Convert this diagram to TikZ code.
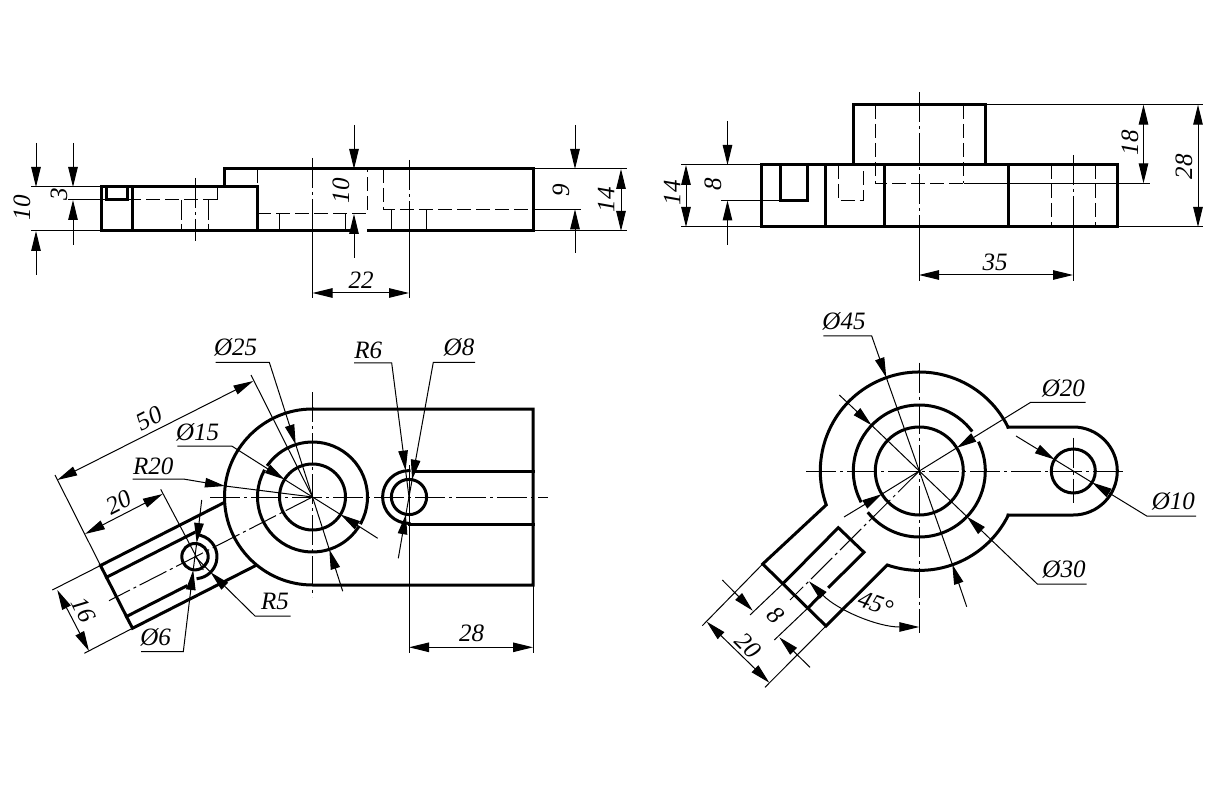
\documentclass[tikz,border=0pt]{standalone}
\usepackage{fontspec}
\setmainfont{Liberation Serif}
\usetikzlibrary{arrows.meta}
\tikzset{%
	main/.style={
		line width=3pt,
		line cap=rect
	},
	thinline/.style={
		line width=1pt
	},
	hid/.style={
		line width=1pt,
		dash pattern=on 14pt off 5pt
	},
	axis/.style={
		line width=1pt,
		dash pattern=on 30pt off 4pt on 3pt off 4pt
	},
	dimline/.style={
		line width=1pt,
		>={Triangle[length=20pt,width=9.5pt]}
	},
	lbl/.style={
		inner sep=0pt,
		font=\fontsize{25}{25}\selectfont\itshape
	},
}

\begin{document}
\begin{tikzpicture}[x=1pt,y=-1pt]
	\useasboundingbox (0,0) rectangle (1224,786);
	\coordinate (C1) at (312.5,497);
	\coordinate (H1) at (195,556.7);
	\coordinate (H2) at (409,497);
	\coordinate (C2) at (919.3,471);
	\coordinate (H3) at (1073.3,471);

	% Top left view
	\draw[main] (349,231) -- (101,231) -- (101,187) -- (257,187) -- (257,231);
	\draw[main] (224,187) -- (224,169) -- (533,169) -- (533,231) -- (368,231);
	\draw[main] (132.5,187) -- (132.5,231);
	\draw[main] (106,187) -- (106,200) -- (127,200) -- (127,187);
	\draw[hid] (127,200) -- (217,200);
	\draw[thinline] (217,200) -- (217,187);
	\draw[hid] (257,169) -- (257,187);
	\draw[hid] (257,213.3) -- (367.5,213.3) -- (367.5,169);
	\draw[hid] (383.5,169) -- (383.5,209.3) -- (533,209.3);
	\foreach \xa/\ya in {181.5/200,208.5/200,279.5/213.3,345/213.3,391.5/209.3,426/209.3}
		\draw[thinline,dash pattern=on 20pt off 4pt] (\xa,\ya) -- (\xa,231);
	\draw[axis] (195.5,178) -- (195.5,241.5);
	\draw[axis] (312.5,158) -- (312.5,231);
	\draw[axis] (409,160) -- (409,231);
	\draw[thinline] (312.5,231) -- (312.5,298);
	\draw[thinline] (409,231) -- (409,298);
	\draw[thinline] (31,187) -- (101,187);
	\draw[thinline] (31,231) -- (101,231);
	\draw[thinline] (68,200) -- (106,200);
	\draw[thinline] (533,169) -- (627,169);
	\draw[thinline] (533,231) -- (627,231);
	\draw[thinline] (533,209.3) -- (581,209.3);
	\foreach \xa/\ya/\yb/\yc/\yd in {36/143/187/275/231,73/143/187/245/200,354/125/169/258/214,575/125/169/253/209.3}{
		\draw[dimline,->] (\xa,\ya) -- (\xa,\yb);
		\draw[dimline,->] (\xa,\yc) -- (\xa,\yd);
	}
	\draw[dimline,<->] (621,169) -- (621,231);
	\draw[dimline,<->] (312.5,293) -- (409,293);
	\node[lbl,rotate=90] (ta) at (22,208) {10};
	\node[lbl,rotate=90] (tb) at (59,194) {3};
	\node[lbl,rotate=90] (tc) at (341,191) {10};
	\node[lbl,rotate=90] (td) at (561,190) {9};
	\node[lbl,rotate=90] (te) at (606,200) {14};
	\node[lbl] (tf) at (361,280) {22};

	% Top right view
	\draw[main] (761,165) rectangle (1117,227);
	\draw[main] (853,165) -- (853,104.7) -- (985,104.7) -- (985,165);
	\foreach \xa in {825,884,1008}
		\draw[main] (\xa,165) -- (\xa,227);
	\draw[main] (780.5,165) -- (780.5,200.5) -- (807.5,200.5) -- (807.5,165);
	\draw[hid] (838,165) -- (838,200.5) -- (863,200.5) -- (863,165);
	\draw[hid] (875.5,105) -- (875.5,183.3) -- (963,183.3);
	\draw[hid] (963.5,105) -- (963.5,183.3);
	\draw[thinline] (963.5,183.3) -- (1150,183.3);
	\draw[hid] (1051.7,165) -- (1051.7,227);
	\draw[hid] (1095.7,165) -- (1095.7,227);
	\draw[axis] (919,92) -- (919,227);
	\draw[axis] (1073,155) -- (1073,227);
	\draw[thinline] (919,227) -- (919,281);
	\draw[thinline] (1073,227) -- (1073,281);
	\draw[thinline] (681,165) -- (761,165);
	\draw[thinline] (681,227) -- (761,227);
	\draw[thinline] (721,200.5) -- (780.5,200.5);
	\draw[thinline] (985,104.7) -- (1203,104.7);
	\draw[thinline] (1117,227) -- (1203,227);
	\draw[dimline,<->] (686,165) -- (686,227);
	\draw[dimline,->] (727.5,121) -- (727.5,165);
	\draw[dimline,->] (727.5,245) -- (727.5,200.5);
	\draw[dimline,<->] (1143.5,104.7) -- (1143.5,183.3);
	\draw[dimline,<->] (1198,104.7) -- (1198,227);
	\draw[dimline,<->] (919,275) -- (1073,275);
	\node[lbl,rotate=90] (ra) at (672,193) {14};
	\node[lbl,rotate=90] (rb) at (713,184) {8};
	\node[lbl,rotate=90] (rc) at (1130,143) {18};
	\node[lbl,rotate=90] (rd) at (1184,167) {28};
	\node[lbl] (re) at (995,262) {35};

	% Bottom left view
	\draw[main] (533,471) -- (414,471);
	\draw[main] (533,524) -- (409,524);
	\draw[main] (312.5,409) -- (533,409) -- (533,585) -- (312.5,585) arc[start angle=270,end angle=90,radius=88pt];
	\draw[main] ([shift={(C1)}]-28:55pt) arc[start angle=-28,end angle=144,radius=55pt];
	\draw[main] ([shift={(C1)}]152:55pt) arc[start angle=152,end angle=326,radius=55pt];
	\draw[main] (C1) circle[radius=33pt];
	\draw[main] (H2) circle[radius=17.6pt];
	\draw[main] ([shift={(H2)}]90:26.4pt) arc[start angle=90,end angle=270,radius=26.4pt];
	\draw[main] (223.3,503) -- (100.5,565.5) -- (132.5,628.3) -- (256,565.4);
	\draw[main] (106.5,577.3) -- (194,532.7);
	\draw[main] (126.5,616.5) -- (186,586.2);
	\draw[main] (H1) circle[radius=13.2pt];
	\draw[main] ([shift={(H1)}]75:22pt) arc[start angle=75,end angle=-82,radius=22pt];
	\draw[axis] (210,497) -- (548,497);
	\draw[axis] (312.5,392) -- (312.5,597);
	\draw[axis] (C1) -- (109,600.7);
	\draw[thinline] (55,475) -- (100.5,565.5);
	\draw[thinline] (251,375) -- (C1);
	\draw[thinline] (160.7,489.3) -- (203.3,570);
	\draw[thinline] (100.5,565.5) -- (52.3,590);
	\draw[thinline] (132.5,628.3) -- (84.3,653.3);
	\draw[thinline] (409,465) -- (409,653);
	\draw[thinline] (533,585) -- (533,653);
	\draw[dimline,<->] (57.3,480) -- (253.3,381);
	\draw[dimline,<->] (85,534) -- (162.7,494);
	\draw[dimline,<->] (57.3,590) -- (89,651);
	\draw[dimline,<->] (409,647.3) -- (533,647.3);
	% leaders
	\draw[dimline,->] (215.7,362.3) -- (269.3,362.3) -- (295.7,444.6);
	\draw[thinline] (295.7,444.6) -- (329.3,549.4);
	\draw[dimline,->] (342.7,591.2) -- (329.3,549.4);
	\draw[dimline,->] (177.3,446) -- (231.7,446) -- (284.5,479.5);
	\draw[thinline] (284.5,479.5) -- (340.5,514.5);
	\draw[dimline,->] (377.7,538.3) -- (340.5,514.5);
	\draw[dimline,->] (132.7,479) -- (183.3,479) -- (225,486);
	\draw[thinline] (225,486) -- (C1);
	\draw[dimline,->] (354,363) -- (391.7,363) -- (405.6,470.6);
	\draw[thinline] (405.6,470.6) -- (H2);
	\draw[dimline,->] (475,362.3) -- (433.3,362.3) -- (412.1,479.7);
	\draw[thinline] (412.1,479.7) -- (405.9,514.3);
	\draw[dimline,->] (398.3,558.3) -- (405.9,514.3);
	\draw[dimline,->] (201.7,500) -- (196.7,543);
	\draw[thinline] (196.7,543) -- (193.2,570);
	\draw[dimline,->] (141,651.7) -- (183.3,651.7) -- (193.2,570);
	\draw[dimline,->] (290.7,616) -- (255,616) -- (210.5,572.2);
	\draw[thinline] (210.5,572.2) -- (H1);
	\node[lbl] (la) at (235.7,347.3) {Ø25};
	\node[lbl] (lb) at (197.7,432.3) {Ø15};
	\node[lbl] (lc) at (153.3,466) {R20};
	\node[lbl] (ld) at (368.3,350.7) {R6};
	\node[lbl] (le) at (459,347.3) {Ø8};
	\node[lbl] (lf) at (155.7,637.7) {Ø6};
	\node[lbl] (lg) at (275,601.7) {R5};
	\node[lbl] (lh) at (471.7,633.3) {28};
	\node[lbl,rotate=27] (li) at (149.3,418.3) {50};
	\node[lbl,rotate=27] (lj) at (119,502.7) {20};
	\node[lbl,rotate=-63] (lk) at (83.3,610) {16};

	% Bottom right view
	\draw[main] (1008,427) -- (1073.3,427) arc[start angle=90,end angle=-90,radius=44pt] -- (1008,515);
	\draw[main] ([shift={(C2)}]26.4:99pt) arc[start angle=26.4,end angle=200,radius=99pt] -- (762.7,564) -- (826,626) -- (887.3,565) arc[start angle=251,end angle=333.6,radius=99pt];
	\draw[main] ([shift={(C2)}]38:66pt) arc[start angle=38,end angle=207,radius=66pt];
	\draw[main] ([shift={(C2)}]220:66pt) arc[start angle=220,end angle=385,radius=66pt];
	\draw[main] (C2) circle[radius=44pt];
	\draw[main] (H3) circle[radius=22pt];
	\draw[main] (783.3,583.3) -- (838.3,527.7) -- (864,552.3) -- (829.3,586.7);
	\draw[main] (818.3,597.3) -- (809.3,606.7);
	\draw[axis] (806,471) -- (1126,471);
	\draw[axis] (919.3,362.7) -- (919.3,632.7);
	\draw[axis] (1073.3,437.7) -- (1073.3,503);
	\draw[axis] (C2) -- (790,600);
	\draw[thinline] (750,615) -- (783.3,583.3);
	\draw[thinline] (774.3,640) -- (809.3,606.7);
	\draw[thinline] (702.3,625.7) -- (762.7,564);
	\draw[thinline] (765,687.3) -- (826,626);
	\draw[dimline,->] (722.3,580) -- (752.7,610.7);
	\draw[dimline,->] (810,667.3) -- (779.3,637.3);
	\draw[dimline,<->] (706.7,621.7) -- (769.3,682.7);
	\draw[dimline,<->] ([shift={(C2)}]225:156pt) arc[start angle=225,end angle=270,radius=156pt];
	% leaders
	\draw[dimline,->] (823.3,336) -- (871.7,336) -- (886.3,377.6);
	\draw[thinline] (886.3,377.6) -- (952.3,564.4);
	\draw[dimline,->] (966.7,606.7) -- (952.3,564.4);
	\draw[dimline,->] (1085.7,402.3) -- (1030.7,402.3) -- (956.7,447.9);
	\draw[thinline] (956.7,447.9) -- (881.9,494.1);
	\draw[dimline,->] (844,517) -- (881.9,494.1);
	\draw[dimline,->] (1086.7,584) -- (1037.3,584) -- (967,516.7);
	\draw[thinline] (967,516.7) -- (871.6,425.3);
	\draw[dimline,->] (839.3,395) -- (871.6,425.3);
	\draw[dimline,->] (1196,516) -- (1146.7,516) -- (1092,482.5);
	\draw[thinline] (1092,482.5) -- (1054.5,459.5);
	\draw[dimline,->] (1016,436) -- (1054.5,459.5);
	\node[lbl] (na) at (844,321.7) {Ø45};
	\node[lbl] (nb) at (1063.3,388.3) {Ø20};
	\node[lbl] (nc) at (1064,569.3) {Ø30};
	\node[lbl] (nd) at (1173.3,501.7) {Ø10};
	\node[lbl,rotate=-45] (ne) at (775.7,615) {8};
	\node[lbl,rotate=-45] (nf) at (748.3,645.7) {20};
	\node[lbl,rotate=-20] (ng) at (875.7,604) {45°};
\end{tikzpicture}
\end{document}
